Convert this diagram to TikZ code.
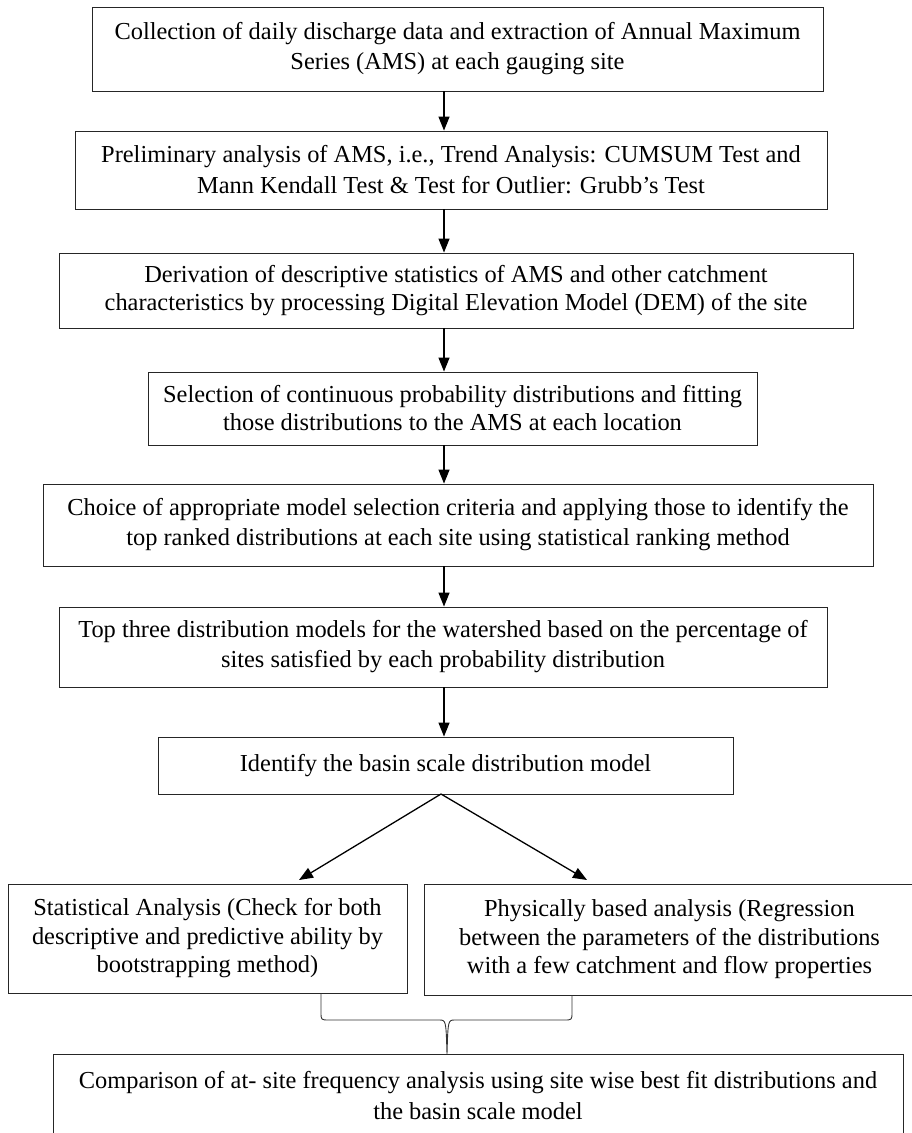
\documentclass[tikz,border=0pt]{standalone}
\usepackage{fontspec}
\setmainfont{Liberation Serif}
\usetikzlibrary{arrows.meta,calc}
\begin{document}
\begin{tikzpicture}[x=1pt,y=-1pt,
  box/.style={draw=black!85, line width=0.9pt, align=center, inner sep=0pt,
    font=\fontsize{24.4}{30}\selectfont},
  fs/.style={font=\fontsize{24.4}{#1}\selectfont},
  arr/.style={line width=1.3pt, -{Triangle[length=14pt,width=11pt]}},
  brace/.style={line width=0.9pt, draw=black!80}]
\useasboundingbox (0,0) rectangle (912,1133);
\node[box, minimum width=731pt, minimum height=84pt] (B1) at (457.5,49)
  {Collection of daily discharge data and extraction of Annual Maximum\\Series (AMS) at each gauging site};
\node[box, fs=31, minimum width=752pt, minimum height=78pt] (B2) at (451,170)
  {Preliminary analysis of AMS, i.e., Trend Analysis: CUMSUM Test and\\Mann Kendall Test \& Test for Outlier: Grubb's Test};
\node[box, fs=28, minimum width=794pt, minimum height=75pt] (B3) at (456,290.5)
  {Derivation of descriptive statistics of AMS and other catchment\\characteristics by processing Digital Elevation Model (DEM) of the site};
\node[box, fs=28, minimum width=609pt, minimum height=73pt] (B4) at (452.5,408.5)
  {Selection of continuous probability distributions and fitting\\those distributions to the AMS at each location};
\node[box, minimum width=830pt, minimum height=82pt] (B5) at (458,525)
  {Choice of appropriate model selection criteria and applying those to identify the\\top ranked distributions at each site using statistical ranking method};
\node[box, minimum width=768pt, minimum height=80pt] (B6) at (443,647)
  {Top three distribution models for the watershed based on the percentage of\\sites satisfied by each probability distribution};
\node[box, minimum width=575pt, minimum height=57pt] (B7) at (445.5,765.5)
  {Identify the basin scale distribution model};
\node[box, fs=28.5, minimum width=399pt, minimum height=109pt] (L) at (207.5,938.5)
  {Statistical Analysis (Check for both\\descriptive and predictive ability by\\bootstrapping method)};
\node[box, fs=28.5, minimum width=491pt, minimum height=111pt] (R) at (669.5,939.5)
  {Physically based analysis (Regression\\between the parameters of the distributions\\with a few catchment and flow properties};
\node[box, fs=31, minimum width=850pt, minimum height=84pt] (C) at (478,1096)
  {Comparison of at- site frequency analysis using site wise best fit distributions and\\the basin scale model};
\coordinate (ax) at (444,0);
\draw[arr] (B1.south -| ax) -- (B2.north -| ax);
\draw[arr] (B2.south -| ax) -- (B3.north -| ax);
\draw[arr] (B3.south -| ax) -- (B4.north -| ax);
\draw[arr] (B4.south -| ax) -- (B5.north -| ax);
\draw[arr] (B5.south -| ax) -- (B6.north -| ax);
\draw[arr] (B6.south -| ax) -- (B7.north -| ax);
\coordinate (lt) at (299,880);
\coordinate (rt) at (587,880);
\coordinate (ap) at (441,794);
\draw[arr] (ap) -- (lt);
\draw[arr] (ap) -- (rt);
% brace
\coordinate (b1) at (321,993);
\coordinate (b2) at (572,995);
\coordinate (tip) at (447,1054);
\draw[brace] (b1) -- (321,1012) .. controls (321,1020) .. (329,1020) -- (439,1020)
  .. controls (446,1020) .. (tip) .. controls (448,1020) .. (455,1020) -- (564,1020)
  .. controls (572,1020) .. (572,1012) -- (b2);
\end{tikzpicture}
\end{document}
